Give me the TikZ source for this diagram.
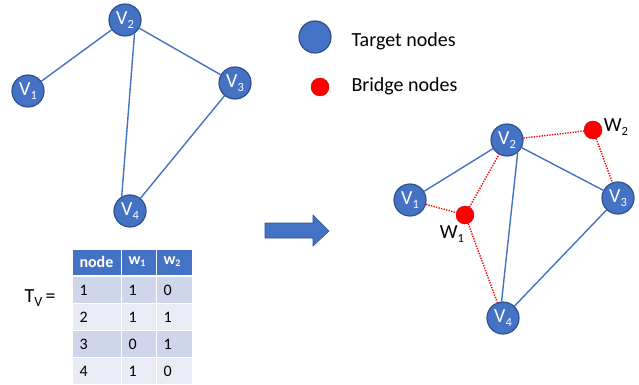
\documentclass[tikz,border=0pt]{standalone}
\usepackage{fontspec}
\setmainfont{Carlito}
\newcommand{\lowsub}[1]{{\fontsize{12.5}{12.5}\selectfont\raisebox{-3.5pt}{#1}}}
\newcommand{\tsub}[1]{{\fontsize{10}{10}\selectfont\raisebox{-2pt}{#1}}}
\newcommand{\bigsub}[1]{{\fontsize{14}{14}\selectfont\raisebox{-4pt}{#1}}}
\definecolor{tblue}{HTML}{4472C4}
\definecolor{tborder}{HTML}{2F528F}
\definecolor{rowa}{HTML}{CFD5EA}
\definecolor{rowb}{HTML}{E9EBF5}
\begin{document}
\begin{tikzpicture}[x=1pt,y=-1pt,
  target/.style={circle,fill=tblue,draw=tborder,line width=1.2pt,minimum size=32pt,inner sep=0pt,text=white,font=\fontsize{20}{20}\selectfont},
  bridge/.style={circle,fill=red,draw=red!80!black,line width=0.4pt,minimum size=18pt,inner sep=0pt},
  edge/.style={draw=tblue,line width=1.4pt},
  redge/.style={draw=red,line width=1.4pt,dash pattern=on 1.3pt off 1.3pt},
  cellhead/.style={draw=white,line width=1pt,fill=tblue},
  cella/.style={draw=white,line width=1pt,fill=rowa},
  cellb/.style={draw=white,line width=1pt,fill=rowb},
  ctext/.style={anchor=west,font=\fontsize{16}{16}\selectfont},
  htext/.style={anchor=west,font=\bfseries\fontsize{16}{16}\selectfont,text=white},
  lbl/.style={font=\fontsize{20}{20}\selectfont}]
\useasboundingbox (0,0) rectangle (639,385);
% left graph
\node[target] (a1) at (28,91) {V\lowsub{1}};
\node[target] (a2) at (125,20) {V\lowsub{2}};
\node[target] (a3) at (235,83) {V\lowsub{3}};
\node[target] (a4) at (130,211) {V\lowsub{4}};
\draw[edge] (a1) -- (a2);
\draw[edge] (a2) -- (a3);
\draw[edge] (a2.-55) -- (a4.120);
\draw[edge] (a3) -- (a4);
% legend
\node[target] (lt) at (315,37) {};
\node[bridge] (lb) at (320,87) {};
\node[lbl,anchor=west] (ltt) at (348,41) {Target nodes};
\node[lbl,anchor=west] (lbt) at (348,86) {Bridge nodes};
% right graph
\node[target] (b1) at (410,200) {V\lowsub{1}};
\node[target] (b2) at (507,140) {V\lowsub{2}};
\node[target] (b3) at (618,198) {V\lowsub{3}};
\node[target] (b4) at (503,318) {V\lowsub{4}};
\node[bridge] (w1) at (465,215) {};
\node[bridge] (w2) at (593,130) {};
\node[lbl,anchor=center] (w1l) at (452,234) {W\lowsub{1}};
\node[lbl,anchor=center] (w2l) at (616,127) {W\lowsub{2}};
\draw[edge] (b1) -- (b2);
\draw[edge] (b2) -- (b3);
\draw[edge] (b2.-50) -- (b4.95);
\draw[edge] (b3) -- (b4);
\draw[redge] (b2) -- (w2);
\draw[redge] (w2) -- (b3);
\draw[redge] (b1) -- (w1);
\draw[redge] (w1) -- (b2);
\draw[redge] (w1) -- (b4);
% arrow
\fill[tblue,draw=tborder,line width=0.6pt] (265,223) -- (313,223) -- (313,215) -- (329,231) -- (313,246) -- (313,238) -- (265,238) -- cycle;
% table
\node[lbl,anchor=center] (tv) at (40,298) {T\bigsub{V}\,=};
\path[cellhead] (72,249) rectangle (121,275);
\path[cellhead] (121,249) rectangle (156,275);
\path[cellhead] (156,249) rectangle (192,275);
\foreach \r/\y/\st in {1/276/cella,2/303/cellb,3/330/cella,4/357/cellb}{
  \path[\st] (72,\y) rectangle (121,\y+27);
  \path[\st] (121,\y) rectangle (156,\y+27);
  \path[\st] (156,\y) rectangle (192,\y+27);
}
\node[htext] (h1) at (76,262) {node};
\node[htext] (h2) at (125,262) {w\tsub{1}};
\node[htext] (h3) at (160,262) {w\tsub{2}};
\foreach \y/\a/\b/\c in {290/1/1/0,317/2/1/1,344/3/0/1,371/4/1/0}{
  \node[ctext] at (76,\y) {\a};
  \node[ctext] at (125,\y) {\b};
  \node[ctext] at (160,\y) {\c};
}
\end{tikzpicture}
\end{document}
